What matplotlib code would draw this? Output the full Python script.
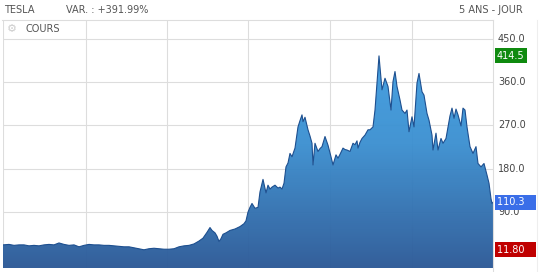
import matplotlib.pyplot as plt
import numpy as np
from matplotlib.colors import LinearSegmentedColormap

# position along the time axis and closing price
t = [3, 9, 14, 19, 24, 29, 34, 39, 44, 49, 54, 59, 64, 69, 74, 79, 84, 89, 94, 99,
     104, 109, 114, 119, 124, 129, 134, 139, 144, 149, 154, 159, 164, 169, 174, 179,
     184, 189, 194, 199, 203, 207, 210, 212, 215, 217, 219, 221, 223, 226, 230, 235,
     240, 244, 246, 248, 250, 252, 255, 258, 260, 263, 266, 268, 270, 272, 275, 278,
     280, 282, 284, 286, 288, 290, 292, 295, 298, 300, 302, 303, 305, 308, 310, 312,
     313, 315, 318, 320, 322, 325, 328, 331, 333, 336, 338, 340, 343, 345, 347, 350,
     353, 355, 357, 358, 360, 362, 365, 368, 370, 373, 375, 377, 379, 382, 385, 388,
     391, 393, 395, 397, 400, 402, 405, 407, 409, 412, 414, 417, 419, 422, 424, 427,
     429, 432, 433, 436, 438, 441, 443, 446, 448, 450, 452, 454, 456, 458, 461, 463,
     465, 467, 470, 473, 476, 478, 481, 484, 487, 489, 491, 492, 493]
close = [22, 23, 21, 22, 22, 20, 21, 20, 22, 23, 22, 26, 23, 21, 22, 18, 21, 23, 22, 22,
         21, 21, 20, 19, 18, 18, 16, 14, 11.8, 14, 15, 14, 13, 13, 14, 18,
         20, 21, 24, 30, 36, 48, 58, 52, 47, 40, 29, 35, 44, 47, 52, 55,
         60, 66, 72, 90, 100, 108, 98, 100, 132, 158, 130, 146, 138, 142, 146, 140,
         142, 138, 150, 184, 192, 212, 205, 223, 267, 280, 292, 278, 287, 261, 248, 233,
         188, 233, 216, 222, 226, 247, 229, 205, 188, 209, 202, 210, 223, 220, 219, 216,
         233, 230, 238, 223, 235, 243, 250, 261, 261, 267, 302, 358, 414.5, 344, 368, 351,
         302, 361, 382, 351, 323, 302, 295, 302, 257, 288, 267, 358, 378, 340, 333, 295,
         281, 250, 219, 254, 219, 243, 233, 243, 267, 290, 306, 285, 304, 292, 269, 306,
         302, 267, 226, 212, 226, 191, 184, 191, 167, 150, 118, 108, 110.3]

y_ticks = [90, 180, 270, 360, 450]
v_grid = [3, 86, 167, 248, 330, 412]
last, high, low = 110.3, 414.5, 11.80

fig = plt.figure(figsize=(5.44, 2.72), dpi=100)
W, H = 544, 272
ax = fig.add_axes([3 / W, 1 - 268 / H, 490 / W, 248 / H])
ymin, ymax = -26, 489
ax.set_xlim(3, 493)
ax.set_ylim(ymin, ymax)

for v in y_ticks:
    ax.axhline(v, color='#dddddd', lw=0.8, zorder=1)
for v in v_grid:
    ax.axvline(v, color='#dddddd', lw=0.8, zorder=1)

# gradient fill under the curve
cmap = LinearSegmentedColormap.from_list('b', ['#2b5896', '#3b8fd0', '#40a4e8'])
grad = np.linspace(0, 1, 256).reshape(-1, 1)
im = ax.imshow(grad, extent=[3, 493, ymin, ymax], origin='lower', aspect='auto',
               cmap=cmap, zorder=2, alpha=0.96)
poly = ax.fill_between(t, close, ymin, color='none', lw=0)
im.set_clip_path(poly.get_paths()[0], transform=ax.transData)
ax.plot(t, close, color='#1d4f8f', lw=0.8, zorder=3)

for s in ax.spines.values():
    s.set_visible(False)
ax.set_xticks([])
ax.set_yticks([])

# right price scale
for v in y_ticks:
    ax.text(498, v, f"{v:.1f}", transform=ax.transData, fontsize=7, color='#444444',
            va='center', ha='left', clip_on=False)


def tag(v, txt, col):
    ax.text(497, v, txt, transform=ax.transData, fontsize=7, color='white',
            va='center', ha='left', clip_on=False,
            bbox=dict(boxstyle='square,pad=0.25', fc=col, ec='none'))


tag(high, f"{high:.1f}", '#0f8a0f')
tag(last, f"{last:.1f}" + "   ", '#3a6ee8')
tag(low, f"{low:.2f}" + "   ", '#c00000')

# frame lines
fig.add_artist(plt.Line2D([2 / W, 493 / W], [1 - 20 / H, 1 - 20 / H], color='#dddddd', lw=0.8))
fig.add_artist(plt.Line2D([493 / W, 493 / W], [0, 1 - 20 / H], color='#dddddd', lw=0.8))
fig.add_artist(plt.Line2D([537 / W, 537 / W], [0, 1 - 20 / H], color='#eeeeee', lw=0.8))

fig.text(4 / W, 1 - 10 / H, "TESLA", fontsize=7, color='#555555', va='center')
fig.text(66 / W, 1 - 10 / H, "VAR. : +391.99%", fontsize=7, color='#555555', va='center')
fig.text(523 / W, 1 - 10 / H, "5 ANS - JOUR", fontsize=7, color='#555555', va='center', ha='right')
fig.text(7 / W, 1 - 29 / H, "\u2699", fontsize=8, color='#cccccc', va='center')
fig.text(26 / W, 1 - 29 / H, "COURS", fontsize=7, color='#555555', va='center')

fig.savefig('out.png', dpi=100)
